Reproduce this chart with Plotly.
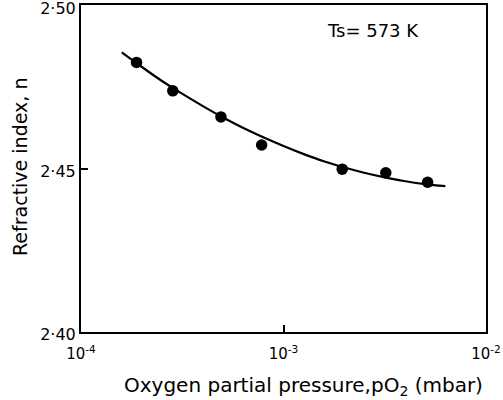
import plotly.graph_objects as go

# measured points
pressure = [1.88e-4, 2.84e-4, 4.91e-4, 7.8e-4, 1.95e-3, 3.2e-3, 5.15e-3]
refr_index = [2.4825, 2.4738, 2.4658, 2.4572, 2.4498, 2.4487, 2.4458]

# fitted curve
curve_p = [1.59e-4, 2.0e-4, 2.5e-4, 3.2e-4, 4.0e-4, 5.0e-4, 6.3e-4, 8.0e-4, 1.0e-3,
           1.26e-3, 1.58e-3, 2.0e-3, 2.5e-3, 3.16e-3, 4.0e-3, 5.0e-3, 6.3e-3]
curve_n = [2.4856, 2.4811, 2.4769, 2.4727, 2.4691, 2.4657, 2.4625, 2.4595, 2.4569,
           2.4544, 2.4522, 2.4503, 2.4487, 2.4473, 2.4461, 2.4452, 2.4446]

x_ticks = [1e-4, 1e-3, 1e-2]
x_labels = ["10<sup>-4</sup>", "10<sup>-3</sup>", "10<sup>-2</sup>"]
y_ticks = [2.40, 2.45, 2.50]
y_labels = ["2·40", "2·45", "2·50"]

font = "DejaVu Sans"

W, H = 503, 400
l, r, t, b = 81, 17, 5, 68
pw, ph = W - l - r, H - t - b
def px(xp): return (xp - l) / pw
def py(yp): return (H - b - yp) / ph

fig = go.Figure()
fig.add_trace(go.Scatter(x=curve_p, y=curve_n, mode="lines",
                         line=dict(color="black", width=2.2, shape="spline"),
                         hoverinfo="skip"))
fig.add_trace(go.Scatter(x=pressure, y=refr_index, mode="markers",
                         marker=dict(color="black", size=11.5)))

fig.update_layout(
    width=W, height=H,
    margin=dict(l=l, r=r, t=t, b=b, autoexpand=False),
    plot_bgcolor="white", paper_bgcolor="white",
    showlegend=False,
    font=dict(family=font, size=16, color="black"),
)
fig.add_annotation(text="Ts= 573 K", x=px(325), y=py(30), xref="paper", yref="paper",
                   xanchor="left", yanchor="middle", showarrow=False,
                   font=dict(size=18, family=font))
fig.add_annotation(text="Oxygen partial pressure,pO<sub>2</sub> (mbar)",
                   x=px(122), y=py(386), xref="paper", yref="paper",
                   xanchor="left", yanchor="middle", showarrow=False,
                   font=dict(size=20, family=font))
fig.add_annotation(text="Refractive index, n", textangle=-90,
                   x=px(20), y=py(167), xref="paper", yref="paper",
                   xanchor="center", yanchor="middle", showarrow=False,
                   font=dict(size=19, family=font))

fig.update_xaxes(type="log", range=[-4, -2], tickvals=x_ticks, ticktext=x_labels,
                 ticks="inside", ticklen=7, tickwidth=2, tickcolor="black",
                 tickfont=dict(size=15), ticklabelstandoff=7,
                 ticklabeloverflow="allow", automargin=False,
                 showline=True, linewidth=2, linecolor="black", mirror=True,
                 showgrid=False, zeroline=False)
fig.update_yaxes(range=[2.3999, 2.5001], tickvals=y_ticks, ticktext=y_labels,
                 ticks="inside", ticklen=7, tickwidth=2, tickcolor="black",
                 tickfont=dict(size=16), ticklabelshift=3,
                 ticklabeloverflow="allow", automargin=False,
                 showline=True, linewidth=2, linecolor="black", mirror=True,
                 showgrid=False, zeroline=False)

fig.write_html("out.html")
